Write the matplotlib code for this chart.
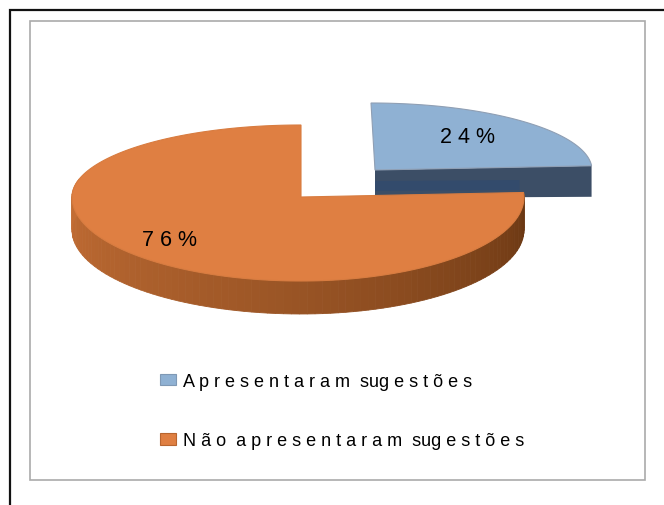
import numpy as np
import matplotlib
matplotlib.use('Agg')
import matplotlib.pyplot as plt
from matplotlib.patches import Patch, Polygon, Rectangle

labels = ['A p r e s e n t a r a m  sug e s t õ e s', 'N ã o  a p r e s e n t a r a m  sug e s t õ e s']
values = [24, 76]
value_labels = ['2 4 %', '7 6 %']
top_colors = ['#8fb1d3', '#df7f42']
edge_colors = ['#8f9fb4', '#d87c40']


def rim(cx, cy, rx, rx_left, up, down, t):
    # t em graus, sentido horario a partir do topo
    t = np.radians(t)
    c = np.cos(t)
    s = np.sin(t)
    ry = np.where(c > 0, up, down)
    r = np.where(s > 0, rx, rx_left)
    return cx + r * s, cy - ry * c


plt.rcParams['font.family'] = ['Liberation Sans', 'DejaVu Sans']
fig = plt.figure(figsize=(6.64, 5.06), dpi=100)
ax = fig.add_axes([0, 0, 1, 1])
ax.set_xlim(0, 664)
ax.set_ylim(506, 0)
ax.axis('off')

# moldura preta e moldura cinza
ax.plot([9.5, 9.5, 664], [506, 11, 11], color='#111111', lw=1.6, solid_joinstyle='miter')
ax.add_patch(Rectangle((30, 22), 615, 459, fill=False, ec='#aaaaaa', lw=1.2))

angles = np.cumsum([0] + values) * 3.6

# fatia azul
cx, cy, rx, up = 375, 171, 217, 67
depth = 28
tt = np.linspace(angles[0], angles[1], 80)
xs, ys = rim(cx, cy, rx, rx, up, up, tt)
tip_x, tip_y = xs[-1], ys[-1]
ax.add_patch(Polygon([(cx, cy), (tip_x, tip_y), (tip_x, tip_y + depth + 3), (cx, cy + depth)],
                     closed=True, fc='#3c4e66', ec='none'))
ax.add_patch(Polygon([(cx, cy + 11), (tip_x - 72, cy + 10), (tip_x - 72, cy + 20), (cx, cy + 21)],
                     closed=True, fc='#334b6c', ec='none'))
ax.add_patch(Polygon(np.r_[[(cx, cy)], np.c_[xs - 4 * (cy - ys) / up * (1 - tt / angles[1]), ys]],
                     closed=True, fc=top_colors[0], ec=edge_colors[0], lw=0.8))

# fatia laranja: lateral em faixas, do escuro (direita) ao claro (esquerda)
cx, cy, rx, rx_left, up, down = 301, 198, 223, 229, 72, 84
depth = 33
dark = np.array(matplotlib.colors.to_rgb('#683612'))
mid = np.array(matplotlib.colors.to_rgb('#9c5626'))
light = np.array(matplotlib.colors.to_rgb('#c87036'))
side = np.arange(angles[1], 285, 2.0)
for a, b in zip(side[:-1], side[1:]):
    x0, y0 = rim(cx, cy, rx, rx_left, up, down, a)
    x1, y1 = rim(cx, cy, rx, rx_left, up, down, b)
    f = (a - angles[1]) / (285 - angles[1])
    col = dark + (mid - dark) * f * 2 if f < 0.5 else mid + (light - mid) * (f - 0.5) * 2
    ax.add_patch(Polygon([(x0, y0), (x1, y1), (x1, y1 + depth), (x0, y0 + depth)],
                         closed=True, fc=col, ec=col, lw=0.6))
tt = np.linspace(angles[1], angles[2], 200)
xs, ys = rim(cx, cy, rx, rx_left, up, down, tt)
ax.add_patch(Polygon(np.r_[[(cx, cy)], np.c_[xs, ys]],
                     closed=True, fc=top_colors[1], ec=edge_colors[1], lw=0.8))

# rotulos de dados
ax.text(467, 137, value_labels[0], ha='center', va='center', fontsize=15.5, color='black')
ax.text(169, 240, value_labels[1], ha='center', va='center', fontsize=15.5, color='black')

handles = [Patch(fc=c, ec=e, lw=0.8) for c, e in zip(top_colors, ['#7f99b5', '#b8652f'])]
ax.legend(handles, labels, loc='upper left', bbox_to_anchor=(160, 374),
          bbox_transform=ax.transData, frameon=False, fontsize=13, borderpad=0,
          borderaxespad=0, handlelength=0.9, handleheight=0.6, handletextpad=0.4,
          labelspacing=2.35)

fig.savefig('out.png', dpi=100)
